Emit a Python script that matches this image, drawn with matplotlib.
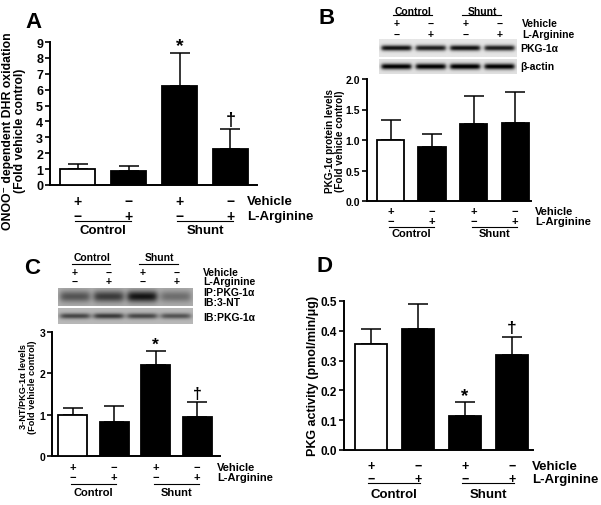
import numpy as np
import matplotlib
matplotlib.use('Agg')
import matplotlib.pyplot as plt
from matplotlib.transforms import blended_transform_factory
from matplotlib.lines import Line2D

plt.rcParams['font.family'] = ['Liberation Sans', 'DejaVu Sans']
plt.rcParams['font.weight'] = 'bold'

# data
groups = ['Control', 'Shunt']
vehicle = ['+', '\u2212', '+', '\u2212']
larginine = ['\u2212', '+', '\u2212', '+']
bar_colors = ['white', 'black', 'black', 'black']

a_mean = [1.0, 0.9, 6.2, 2.25]
a_err = [0.33, 0.27, 2.1, 1.27]
a_sig = ['', '', '*', '\u2020']

b_mean = [1.0, 0.88, 1.27, 1.28]
b_err = [0.33, 0.22, 0.45, 0.5]
b_sig = ['', '', '', '']

c_mean = [1.0, 0.83, 2.2, 0.95]
c_err = [0.16, 0.37, 0.35, 0.35]
c_sig = ['', '', '*', '\u2020']

d_mean = [0.355, 0.405, 0.115, 0.32]
d_err = [0.05, 0.085, 0.045, 0.06]
d_sig = ['', '', '*', '\u2020']

# band strengths of the blots (per lane)
blot_b_pkg = [0.85, 0.8, 0.85, 0.8]
blot_b_actin = [0.9, 0.9, 0.92, 0.9]
blot_c_nt = [0.35, 0.45, 0.6, 0.25]
blot_c_pkg = [0.45, 0.5, 0.45, 0.4]

W, H = 601, 506
fig = plt.figure(figsize=(6.01, 5.06), dpi=100)


def px_axes(l, t, r, b):
    return fig.add_axes([l / W, 1 - b / H, (r - l) / W, (b - t) / H])


def ftext(x, y, s, **kw):
    fig.text(x / W, 1 - y / H, s, **kw)


def bars(ax, mean, err, sig, ylim, yticks, fmt, xlim, width, fs, cap):
    x = np.arange(len(mean))
    ax.bar(x, mean, width=width, color=bar_colors, edgecolor='black',
           linewidth=1.3, zorder=3)
    ax.errorbar(x, mean, yerr=[np.zeros(len(err)), err], fmt='none',
                ecolor='black', elinewidth=1.1, capsize=cap, capthick=1.1,
                zorder=2)
    for xi, m, e, s in zip(x, mean, err, sig):
        if s:
            ax.annotate(s, (xi, m + e), xytext=(0, -1 if s == '*' else 1),
                        textcoords='offset points', ha='center', va='bottom',
                        fontsize=fs + 5 if s == '*' else fs + 4)
    ax.set_xlim(*xlim)
    ax.set_ylim(*ylim)
    ax.set_yticks(yticks)
    ax.set_yticklabels([fmt.format(v) for v in yticks], fontsize=fs)
    ax.set_xticks([])
    for s in ['top', 'right']:
        ax.spines[s].set_visible(False)
    for s in ['left', 'bottom']:
        ax.spines[s].set_linewidth(1.4)
    ax.tick_params(axis='y', length=3.5, width=1.2, pad=1.5)


def under(ax, y_plus, y_minus, y_line, y_grp, x_lab, fs, gfs):
    tr = blended_transform_factory(ax.transData, fig.transFigure)
    for i in range(4):
        ax.text(i, 1 - y_plus / H, vehicle[i], transform=tr, ha='center',
                va='center', fontsize=fs)
        ax.text(i, 1 - y_minus / H, larginine[i], transform=tr, ha='center',
                va='center', fontsize=fs)
    for k, g in enumerate(groups):
        ax.add_line(Line2D([2 * k - 0.05, 2 * k + 1.05], [1 - y_line / H] * 2,
                           transform=tr, color='black', lw=0.8, clip_on=False))
        ax.text(2 * k + 0.5, 1 - y_grp / H, g, transform=tr, ha='center',
                va='center', fontsize=gfs)
    ftext(x_lab, y_plus, 'Vehicle', ha='left', va='center', fontsize=gfs)
    ftext(x_lab, y_minus, 'L-Arginine', ha='left', va='center', fontsize=gfs)


def blot(ax, amps, bg, sig_y, edge):
    x = np.linspace(-0.5, 3.5, 240)
    y = np.linspace(0, 1, 40)
    X, Y = np.meshgrid(x, y)
    img = np.full(X.shape, bg, dtype=float)
    for i, a in enumerate(amps):
        lane = (1 / (1 + np.exp(-(X - (i - 0.43)) / edge))
                * 1 / (1 + np.exp((X - (i + 0.43)) / edge)))
        img -= a * lane * np.exp(-((Y - 0.5) / sig_y) ** 2)
    ax.imshow(img, cmap='gray', vmin=0, vmax=1, extent=(-0.5, 3.5, 0, 1),
              aspect='auto', interpolation='bilinear')
    ax.set_xlim(-0.5, 3.5)
    ax.set_axis_off()


def blot_header(ax, y_grp, y_line, y_plus, y_minus, x_lab, fs):
    tr = blended_transform_factory(ax.transData, fig.transFigure)
    for k, g in enumerate(groups):
        ax.text(2 * k + 0.5, 1 - y_grp / H, g, transform=tr, ha='center',
                va='center', fontsize=fs)
        ax.add_line(Line2D([2 * k - 0.1, 2 * k + 1.05], [1 - y_line / H] * 2,
                           transform=tr, color='black', lw=0.8, clip_on=False))
    for i in range(4):
        ax.text(i, 1 - y_plus / H, vehicle[i], transform=tr, ha='center',
                va='center', fontsize=fs)
        ax.text(i, 1 - y_minus / H, larginine[i], transform=tr, ha='center',
                va='center', fontsize=fs)
    ftext(x_lab, y_plus, 'Vehicle', ha='left', va='center', fontsize=fs)
    ftext(x_lab, y_minus, 'L-Arginine', ha='left', va='center', fontsize=fs)


# panel A
axA = px_axes(50, 43, 257, 186)
bars(axA, a_mean, a_err, a_sig, (0, 9), list(range(10)), '{:d}',
     (-0.54, 3.52), 0.69, 9, 7)
under(axA, 202, 217, 222, 231, 247, 10, 9.5)
ftext(14, 131, 'ONOO\u207b dependent DHR oxidation\n(Fold vehicle control)',
      rotation=90, ha='center', va='center', fontsize=8.8, linespacing=1.0)
ftext(33, 23, 'A', ha='center', va='center', fontsize=16)

# panel B
axB = px_axes(367, 80, 531, 202)
bars(axB, b_mean, b_err, b_sig, (0, 2), [0, 0.5, 1.0, 1.5, 2.0], '{:.1f}',
     (-0.57, 3.38), 0.66, 7.5, 7)
under(axB, 212, 222, 228, 234, 535, 8, 8)
ftext(335, 141, 'PKG-1\u03b1 protein levels\n(Fold vehicle control)',
      rotation=90, ha='center', va='center', fontsize=7.2, linespacing=1.0)
ftext(327, 19, 'B', ha='center', va='center', fontsize=16)
bB1 = px_axes(379, 40, 517, 58)
blot(bB1, blot_b_pkg, 0.9, 0.16, 0.03)
bB2 = px_axes(379, 60, 517, 75)
blot(bB2, blot_b_actin, 0.88, 0.2, 0.03)
blot_header(bB1, 12, 16, 24, 35, 522, 7.5)
ftext(520, 49, 'PKG-1\u03b1', ha='left', va='center', fontsize=7.5)
ftext(520, 67, '\u03b2-actin', ha='left', va='center', fontsize=7.5)

# panel C
axC = px_axes(52, 333, 220, 457)
bars(axC, c_mean, c_err, c_sig, (0, 3), [0, 1, 2, 3], '{:d}',
     (-0.5, 3.55), 0.7, 7.5, 7)
under(axC, 468, 478, 485, 493, 217, 8, 8)
ftext(28, 387, '3-NT/PKG-1\u03b1 levels\n(Fold vehicle control)',
      rotation=90, ha='center', va='center', fontsize=6.6, linespacing=1.0)
ftext(32, 268, 'C', ha='center', va='center', fontsize=16)
bC1 = px_axes(58, 289, 193, 307)
blot(bC1, blot_c_nt, 0.68, 0.3, 0.05)
bC2 = px_axes(58, 309, 193, 325)
blot(bC2, blot_c_pkg, 0.72, 0.18, 0.05)
blot_header(bC1, 258, 265, 273, 282, 203, 7.5)
ftext(203, 293, 'IP:PKG-1\u03b1', ha='left', va='center', fontsize=7.5)
ftext(203, 303, 'IB:3-NT', ha='left', va='center', fontsize=7.5)
ftext(203, 318, 'IB:PKG-1\u03b1', ha='left', va='center', fontsize=7.5)

# panel D
axD = px_axes(344, 302, 533, 451)
bars(axD, d_mean, d_err, d_sig, (0, 0.5), [0, 0.1, 0.2, 0.3, 0.4, 0.5],
     '{:.1f}', (-0.57, 3.45), 0.68, 8.5, 7)
under(axD, 467, 480, 484, 495, 532, 9, 9.5)
ftext(313, 376, 'PKG activity (pmol/min/\u03bcg)', rotation=90,
      ha='center', va='center', fontsize=9)
ftext(325, 267, 'D', ha='center', va='center', fontsize=16)

fig.savefig('out.png', dpi=100)
